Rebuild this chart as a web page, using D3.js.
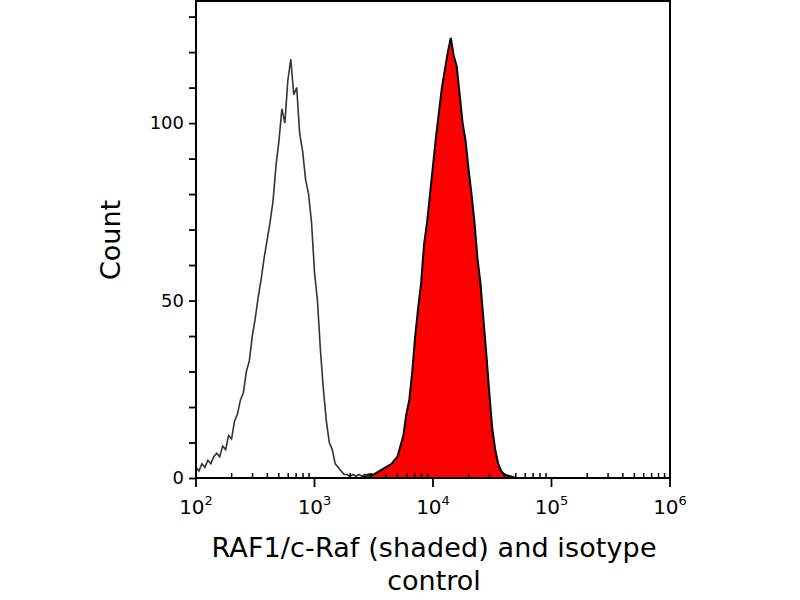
<!DOCTYPE html><html><head><meta charset="utf-8"><script src="https://cdn.jsdelivr.net/npm/d3@7"></script>
<style>body{margin:0;background:#fff}text{font-family:"DejaVu Sans",sans-serif}</style></head><body><svg id="c" width="800" height="600"></svg><script>
const isoLog=[2.0,2.025,2.05,2.075,2.1,2.125,2.15,2.175,2.2,2.225,2.25,2.275,2.3,2.325,2.35,2.375,2.4,2.425,2.45,2.475,2.5,2.525,2.55,2.575,2.6,2.625,2.65,2.675,2.7,2.725,2.75,2.775,2.8,2.825,2.85,2.875,2.9,2.925,2.95,2.975,3.0,3.025,3.05,3.075,3.1,3.125,3.15,3.175,3.2,3.225,3.25,3.275,3.3,3.325,3.35,3.375,3.4,3.425,3.45,3.475,3.5];
const isoCount=[3,2,4,3,5,4,6,7,6,9,8,12,11,16,18,22,24,30,33,40,45,51,56,62,67,72,78,88,95,104,100,112,118,108,110,97,92,84,80,72,58,50,36,25,16,10,8,4,3,2,1,1,0.5,1,0.5,1,0.5,1,0.5,0.5,0];
const rafLog=[3.4,3.45,3.5,3.55,3.6,3.65,3.7,3.725,3.75,3.775,3.8,3.825,3.85,3.875,3.9,3.925,3.95,3.975,4.0,4.025,4.05,4.075,4.1,4.125,4.15,4.175,4.2,4.225,4.25,4.275,4.3,4.325,4.35,4.375,4.4,4.425,4.45,4.475,4.5,4.525,4.55,4.575,4.6,4.65,4.7];
const rafCount=[0,1,1,2,3,4,6,9,12,18,22,30,40,48,55,66,72,80,88,96,103,110,115,120,124,119,116,108,100,95,87,80,72,62,55,45,35,24,14,8,4,2,1,0.5,0];
const xDecades=[2,3,4,5,6];
const yTicks=[0,50,100];
const svg=d3.select("#c");
const L=196,R=670,T=1,B=478;
const x=d3.scaleLog().domain([100,1e6]).range([L,R]);
const y=d3.scaleLinear().domain([0,134.4]).range([B,T]);
const area=d3.area().x(d=>x(Math.pow(10,d[0]))).y0(B).y1(d=>y(d[1]));
const line=d3.line().x(d=>x(Math.pow(10,d[0]))).y(d=>y(d[1]));
const raf=rafLog.map((l,i)=>[l,rafCount[i]]);
const iso=isoLog.map((l,i)=>[l,isoCount[i]]);
svg.append("path").attr("d",area(raf)).attr("fill","#ff0000");
svg.append("path").attr("d",line(raf)).attr("fill","none").attr("stroke","#000").attr("stroke-width",2);
svg.append("path").attr("d",line(iso)).attr("fill","none").attr("stroke","#333").attr("stroke-width",1.6);
svg.append("path").attr("d",`M${L},${B}V${T}H${R}V${B}`).attr("fill","none").attr("stroke","#000").attr("stroke-width",2);
svg.append("line").attr("x1",L).attr("x2",R).attr("y1",B).attr("y2",B).attr("stroke","#000").attr("stroke-width",2);
const ya=svg.append("g").attr("transform",`translate(${L},0)`).call(d3.axisLeft(y).tickValues(d3.range(0,131,10)).tickSize(7).tickFormat(d=>yTicks.includes(d)?d:""));
ya.select(".domain").remove();
ya.selectAll("line").attr("stroke-width",1.8);
ya.selectAll("text").attr("font-size",18).attr("fill","#000").attr("dx",-2);
const g=svg.append("g");
xDecades.forEach(dd=>{
  g.append("line").attr("x1",x(10**dd)).attr("x2",x(10**dd)).attr("y1",B).attr("y2",B+9).attr("stroke","#000").attr("stroke-width",1.8);
  const t=g.append("text").attr("x",x(10**dd)).attr("y",B+36).attr("text-anchor","middle").attr("font-size",20);
  t.append("tspan").text("10");
  t.append("tspan").text(dd).attr("font-size",13).attr("dy",-9);
  if(dd<6) for(let k=2;k<10;k++){const v=k*10**dd;g.append("line").attr("x1",x(v)).attr("x2",x(v)).attr("y1",B).attr("y2",B-5).attr("stroke","#000").attr("stroke-width",1.5);}
});
svg.append("text").attr("x",434).attr("y",557).attr("text-anchor","middle").attr("font-size",27).attr("textLength",445).text("RAF1/c-Raf (shaded) and isotype");
svg.append("text").attr("x",434).attr("y",590).attr("text-anchor","middle").attr("font-size",27).text("control");
svg.append("text").attr("transform","translate(120,240) rotate(-90)").attr("text-anchor","middle").attr("font-size",27).text("Count");
</script></body></html>
